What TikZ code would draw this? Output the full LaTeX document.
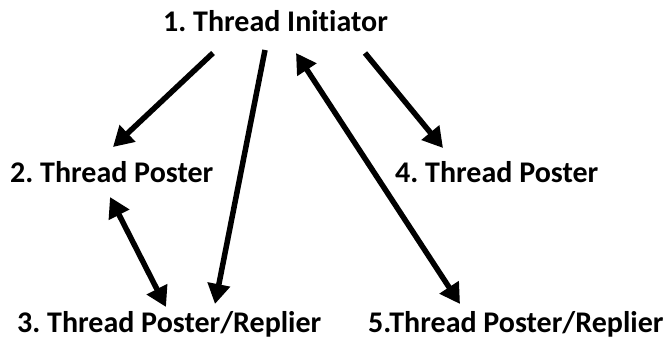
\documentclass[tikz,border=0pt]{standalone}
\usepackage{fontspec}
\setmainfont[Ligatures=NoCommon]{Carlito}
\usetikzlibrary{arrows.meta}
\frenchspacing
\begin{document}
\begin{tikzpicture}[x=1pt,y=1pt,
  role/.style={anchor=base west,inner sep=0pt,font=\fontsize{30}{36}\selectfont\bfseries},
  link/.style={line width=5.5pt,-{Triangle[length=20pt,width=22pt]}},
  both/.style={line width=5.5pt,{Triangle[length=20pt,width=22pt]}-{Triangle[length=20pt,width=22pt]}}]
\useasboundingbox (0,0) rectangle (665,338);
% participants
\node[role] (n1) at (163,306) {1. Thread Initiator};
\node[role] (n2) at (10,155) {2. Thread Poster};
\node[role] (n3) at (17,6) {3. Thread Poster/Replier};
\node[role] (n4) at (395,155) {4. Thread Poster};
\node[role] (n5) at (368,6) {5.Thread Poster/Replier};
% arrow end points
\coordinate (a1) at (213,285); \coordinate (a2) at (113,191);
\coordinate (b1) at (265,288); \coordinate (b3) at (215,34);
\coordinate (c1) at (296,285); \coordinate (c5) at (460,34);
\coordinate (d1) at (365,285); \coordinate (d4) at (443,190);
\coordinate (e2) at (110,141); \coordinate (e3) at (166,31);
% connectors
\draw[link] (a1) -- (a2);
\draw[link] (b1) -- (b3);
\draw[both] (c1) -- (c5);
\draw[link] (d1) -- (d4);
\draw[both] (e2) -- (e3);
\end{tikzpicture}
\end{document}
